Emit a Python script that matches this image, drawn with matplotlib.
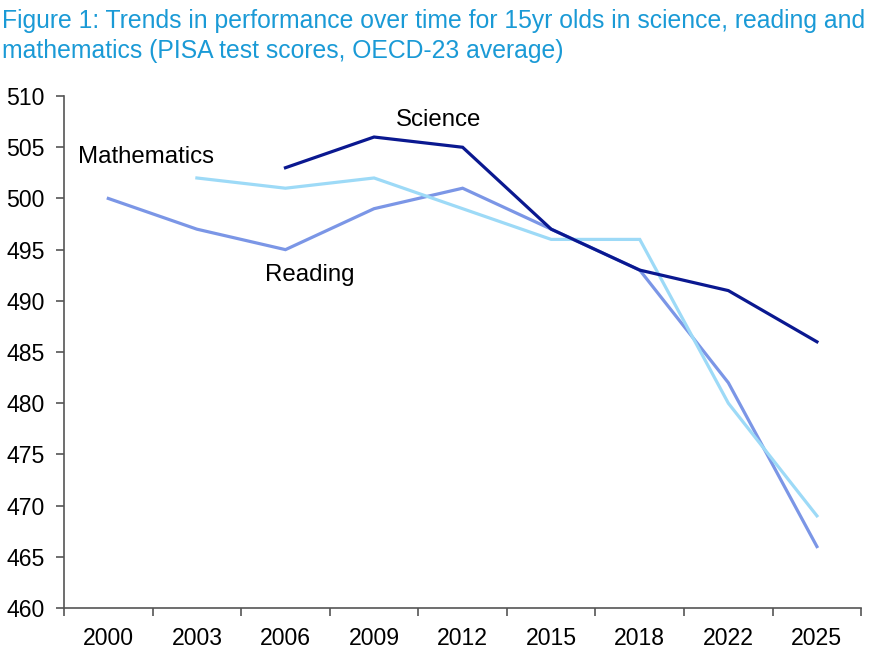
import numpy as np
import matplotlib
matplotlib.use("Agg")
import matplotlib.pyplot as plt

years = ["2000", "2003", "2006", "2009", "2012", "2015", "2018", "2022", "2025"]
reading = [500, 497, 495, 499, 501, 497, 493, 482, 466]
mathematics = [np.nan, 502, 501, 502, 499, 496, 496, 480, 469]
science = [np.nan, np.nan, 503, 506, 505, 497, 493, 491, 486]
y_ticks = [460, 465, 470, 475, 480, 485, 490, 495, 500, 505, 510]

plt.rcParams["font.family"] = ["Liberation Sans", "DejaVu Sans"]

fig = plt.figure(figsize=(8.77, 6.58), dpi=100)
ax = fig.add_axes([0.073, 0.076, 0.909, 0.778])

x = np.arange(len(years))
ax.plot(x, reading, color="#7b96e6", lw=2.3, solid_joinstyle="miter")
ax.plot(x, mathematics, color="#9ddaf7", lw=2.3, solid_joinstyle="miter")
ax.plot(x, science, color="#0a1890", lw=2.3, solid_joinstyle="miter")

# series labels placed next to the lines
ax.text(0.43, 504.05, "Mathematics", fontsize=17.3, ha="center", va="center")
ax.text(3.73, 507.65, "Science", fontsize=17.3, ha="center", va="center")
ax.text(2.27, 492.5, "Reading", fontsize=17.3, ha="center", va="center")

ax.set_xlim(-0.5, len(years) - 0.5)
ax.set_ylim(460, 510)
ax.set_yticks(y_ticks)
ax.set_yticklabels([str(v) for v in y_ticks], fontsize=16.6)
ax.set_xticks(x)
ax.set_xticklabels(years, fontsize=16.6)
ax.set_xticks(np.arange(len(years) + 1) - 0.5, minor=True)
ax.tick_params(axis="x", which="major", length=0, pad=14)
ax.tick_params(axis="x", which="minor", length=6, color="#555555", width=1.2)
ax.tick_params(axis="y", length=6, color="#555555", width=1.2, pad=8)

for side in ["top", "right"]:
    ax.spines[side].set_visible(False)
for side in ["left", "bottom"]:
    ax.spines[side].set_color("#555555")
    ax.spines[side].set_linewidth(1.2)

fig.text(0.002, 0.986, "Figure 1: Trends in performance over time for 15yr olds in science, reading and\n"
         "mathematics (PISA test scores, OECD-23 average)",
         color="#1a9ad6", fontsize=17.8, ha="left", va="top", linespacing=1.32)

fig.savefig("out.png", dpi=100)
